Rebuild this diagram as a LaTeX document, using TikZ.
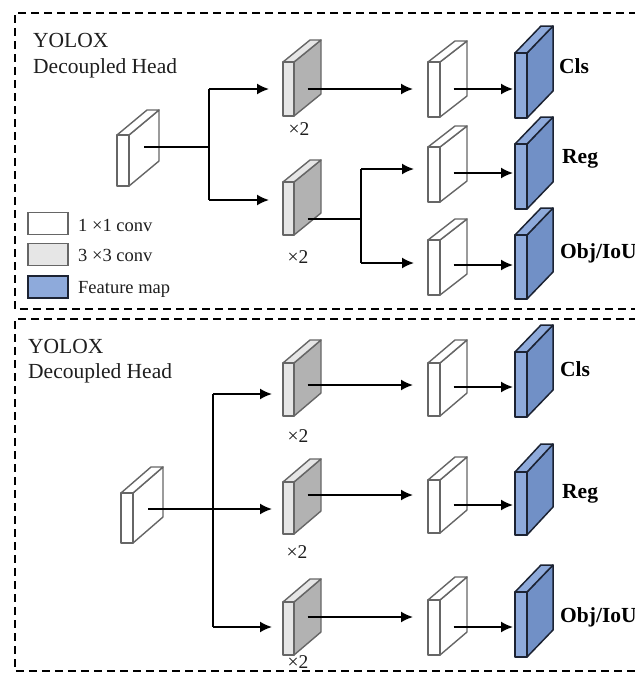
\documentclass[tikz,border=0pt]{standalone}
\usepackage{fontspec}
\setmainfont{Liberation Serif}
\usetikzlibrary{arrows.meta}

\definecolor{edgegray}{HTML}{666666}
\definecolor{convlight}{HTML}{E6E6E6}
\definecolor{convdark}{HTML}{B2B2B2}
\definecolor{featlight}{HTML}{8EAADB}
\definecolor{featdark}{HTML}{7190C6}
\definecolor{featedge}{HTML}{1C2333}
\definecolor{inktext}{HTML}{1E1E1E}

\tikzset{
  slabline/.style={draw=edgegray, line width=1.4pt, line join=round},
  whitefront/.style={slabline, fill=white},
  whiteside/.style={slabline, fill=white},
  whitetop/.style={slabline, fill=white},
  grayfront/.style={slabline, fill=convlight},
  grayside/.style={slabline, fill=convdark},
  graytop/.style={slabline, fill=convlight},
  blueline/.style={draw=featedge, line width=1.5pt, line join=round},
  bluefront/.style={blueline, fill=featlight},
  blueside/.style={blueline, fill=featdark},
  bluetop/.style={blueline, fill=featlight},
  % a slab: #1 width, #2 height, #3/#4 depth offset, #5 kind, #6 height of the outgoing line
  pics/slab/.style n args={6}{code={
    \path[#5side] (#1,0) -- ++(#3,#4) -- ++(0,#2) -- (#1,#2) -- cycle;
    \path[#5top] (0,0) -- (#3,#4) -- ++(#1,0) -- (#1,0) -- cycle;
    \path[#5front] (0,0) rectangle (#1,#2);
    \coordinate (-in) at (0,#2/2);
    \coordinate (-out) at (#1+#3/2,#6);
  }},
  conn/.style={line width=1.8pt, draw=black},
  arr/.style={conn, -{Latex[length=12pt,width=11pt]}},
  frame/.style={line width=1.9pt, dash pattern=on 8pt off 5pt, draw=black},
  title/.style={anchor=base west, inner sep=0pt, text=inktext, font=\fontsize{21.5}{24}\selectfont},
  outlabel/.style={anchor=base west, inner sep=0pt, text=black, font=\fontsize{21.5}{24}\selectfont\bfseries},
  times/.style={inner sep=0pt, text=inktext, font=\fontsize{19.5}{22}\selectfont},
  legtext/.style={anchor=base west, inner sep=0pt, text=inktext, font=\fontsize{18.5}{21}\selectfont},
  legbox/.style={minimum width=40pt, minimum height=22pt, inner sep=0pt, line width=1.4pt},
}

\begin{document}
\begin{tikzpicture}[x=1pt, y=-1pt]
\useasboundingbox (0,0) rectangle (635,673);
\clip (0,0) rectangle (635,673);

% ---------------- upper panel ----------------
\draw[frame] (650,13) -- (15,13) -- (15,309) -- (650,309);
\node[title] (ta) at (33,47) {YOLOX};
\node[title] (tb) at (33,73) {Decoupled Head};

\pic (in1) at (117,135) {slab={12}{51}{30}{-25}{white}{12}};
\pic (g1) at (283,62) {slab={11}{54}{27}{-22}{gray}{27}};
\pic (g2) at (283,182) {slab={11}{53}{27}{-22}{gray}{37}};
\pic (w1) at (428,62) {slab={12}{55}{27}{-21}{white}{27}};
\pic (w2) at (428,147) {slab={12}{55}{27}{-21}{white}{26}};
\pic (w3) at (428,240) {slab={12}{55}{27}{-21}{white}{25}};
\pic (b1) at (515,53) {slab={12}{65}{26}{-27}{blue}{0}};
\pic (b2) at (515,144) {slab={12}{65}{26}{-27}{blue}{0}};
\pic (b3) at (515,235) {slab={12}{64}{26}{-27}{blue}{0}};

\node[times] (x1) at (299,129) {×2};
\node[times] (x2) at (298,257) {×2};

\node[outlabel] (cls1) at (559,73) {Cls};
\node[outlabel] (reg1) at (562,163) {Reg};
\node[outlabel] (obj1) at (560,258) {Obj/IoU};

\coordinate (j1a) at (209,89);
\coordinate (j1b) at (209,200);
\coordinate (j2a) at (361,169);
\coordinate (j2b) at (361,263);

\draw[conn] (in1-out) -- (in1-out -| j1a);
\draw[conn] (j1a) -- (j1b);
\draw[arr, shorten >=14pt] (j1a) -- (j1a -| g1-in);
\draw[arr, shorten >=14pt] (j1b) -- (j1b -| g2-in);
\draw[arr, shorten >=15pt] (g1-out) -- (g1-out -| w1-in);
\draw[conn] (g2-out) -- (g2-out -| j2a);
\draw[conn] (j2a) -- (j2b);
\draw[arr, shorten >=14pt] (j2a) -- (j2a -| w2-in);
\draw[arr, shorten >=14pt] (j2b) -- (j2b -| w3-in);
\draw[arr, shorten >=2pt] (w1-out) -- (w1-out -| b1-in);
\draw[arr, shorten >=2pt] (w2-out) -- (w2-out -| b2-in);
\draw[arr, shorten >=2pt] (w3-out) -- (w3-out -| b3-in);

% legend
\node[legbox, draw=edgegray, fill=white] (lg1) at (48,223.5) {};
\node[legbox, draw=edgegray, fill=convlight] (lg2) at (48,254.5) {};
\node[legbox, draw=featedge, fill=featlight] (lg3) at (48,287) {};
\node[legtext] (lt1) at (78,231) {1 ×1 conv};
\node[legtext] (lt2) at (78,261) {3 ×3 conv};
\node[legtext] (lt3) at (78,293) {Feature map};

% ---------------- lower panel ----------------
\draw[frame] (650,319) -- (15,319) -- (15,671) -- (650,671);
\node[title] (tc) at (28,353) {YOLOX};
\node[title] (td) at (28,378) {Decoupled Head};

\pic (in2) at (121,493) {slab={12}{50}{30}{-26}{white}{16}};
\pic (g3) at (283,363) {slab={11}{53}{27}{-23}{gray}{22}};
\pic (g4) at (283,482) {slab={11}{52}{27}{-23}{gray}{13}};
\pic (g5) at (283,602) {slab={11}{53}{27}{-23}{gray}{15}};
\pic (w4) at (428,363) {slab={12}{53}{27}{-23}{white}{24}};
\pic (w5) at (428,480) {slab={12}{53}{27}{-23}{white}{25}};
\pic (w6) at (428,600) {slab={12}{55}{27}{-23}{white}{27}};
\pic (b4) at (515,352) {slab={12}{65}{26}{-27}{blue}{0}};
\pic (b5) at (515,472) {slab={12}{63}{26}{-28}{blue}{0}};
\pic (b6) at (515,592) {slab={12}{65}{26}{-27}{blue}{0}};

\node[times] (x3) at (298,436) {×2};
\node[times] (x4) at (297,552) {×2};
\node[times] (x5) at (298,662) {×2};

\node[outlabel] (cls2) at (560,376) {Cls};
\node[outlabel] (reg2) at (562,498) {Reg};
\node[outlabel] (obj2) at (560,622) {Obj/IoU};

\coordinate (j3a) at (213,394);
\coordinate (j3b) at (213,627);

\draw[arr, shorten >=11pt] (in2-out) -- (in2-out -| g4-in);
\draw[conn] (j3a) -- (j3b);
\draw[arr, shorten >=11pt] (j3a) -- (j3a -| g3-in);
\draw[arr, shorten >=11pt] (j3b) -- (j3b -| g5-in);
\draw[arr, shorten >=15pt] (g3-out) -- (g3-out -| w4-in);
\draw[arr, shorten >=15pt] (g4-out) -- (g4-out -| w5-in);
\draw[arr, shorten >=15pt] (g5-out) -- (g5-out -| w6-in);
\draw[arr, shorten >=2pt] (w4-out) -- (w4-out -| b4-in);
\draw[arr, shorten >=2pt] (w5-out) -- (w5-out -| b5-in);
\draw[arr, shorten >=2pt] (w6-out) -- (w6-out -| b6-in);
\end{tikzpicture}
\end{document}
